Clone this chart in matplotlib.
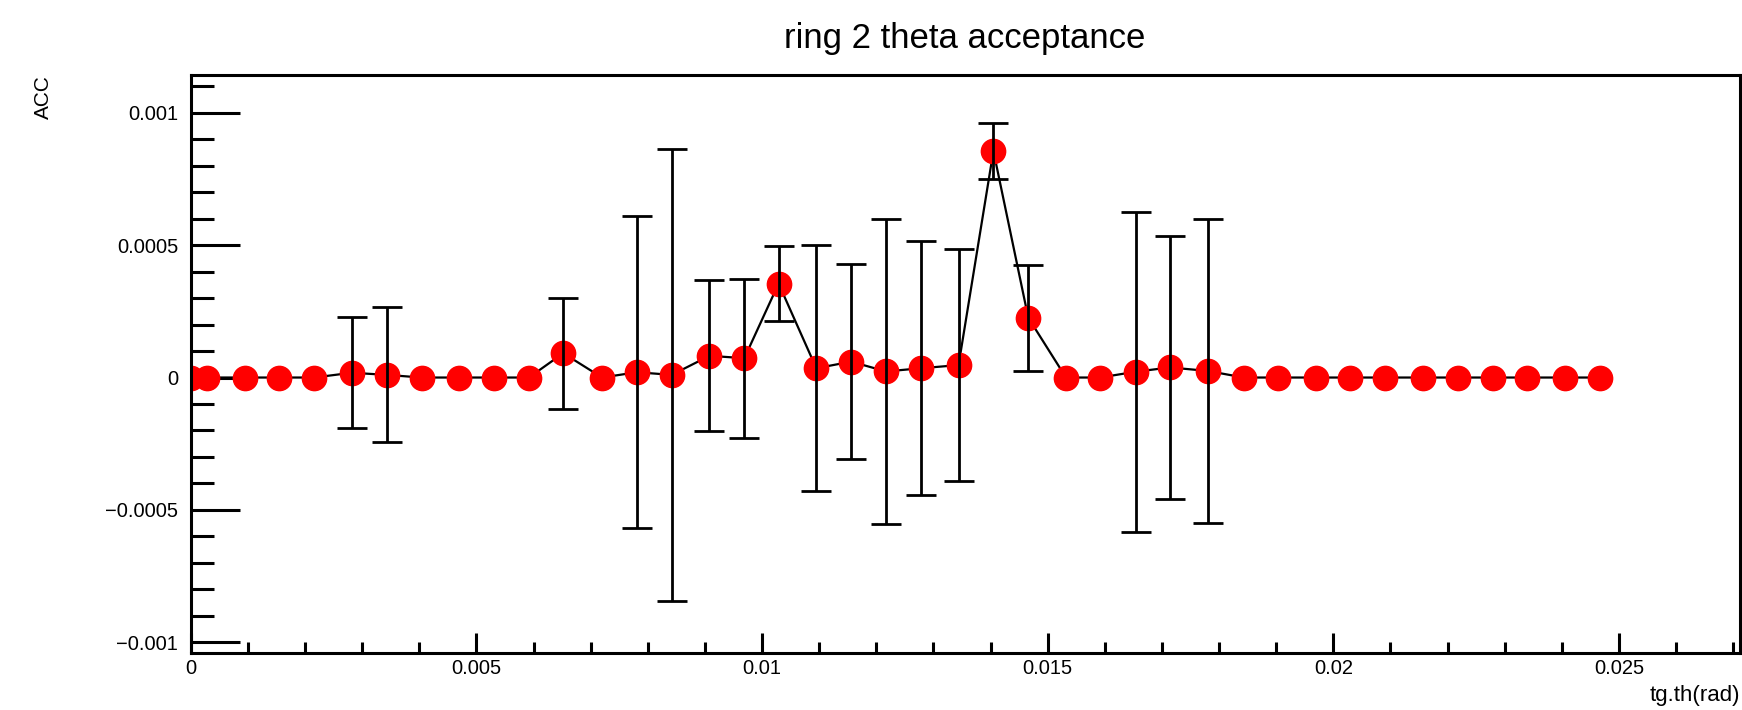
import numpy as np
import matplotlib
matplotlib.use('Agg')
from matplotlib import pyplot as plt
from matplotlib.ticker import MultipleLocator, FuncFormatter

plt.rcParams['font.family'] = ['Liberation Sans', 'DejaVu Sans']

# tg.th (rad) of each point
theta = [0.0, 0.00028, 0.00095, 0.00155, 0.00216, 0.00282, 0.00343, 0.00404,
         0.00470, 0.00531, 0.00592, 0.00652, 0.00720, 0.00781, 0.00842, 0.00908,
         0.00969, 0.01029, 0.01095, 0.01156, 0.01217, 0.01278, 0.01344, 0.01405,
         0.01466, 0.01532, 0.01592, 0.01654, 0.01714, 0.01780, 0.01843, 0.01903,
         0.01969, 0.02030, 0.02091, 0.02157, 0.02218, 0.02279, 0.02339, 0.02406,
         0.02466]

# acceptance values
acc = [0.0, 0.0, 0.0, 0.0, 0.0, 0.000018, 0.00001, 0.0,
       0.0, 0.0, 0.0, 0.000092, 0.0, 0.00002, 0.00001, 0.000082,
       0.000073, 0.000355, 0.000035, 0.00006, 0.000023, 0.000035, 0.000047, 0.000856,
       0.000226, 0.0, 0.0, 0.000022, 0.000038, 0.000025, 0.0, 0.0,
       0.0, 0.0, 0.0, 0.0, 0.0, 0.0, 0.0, 0.0,
       0.0]

# errors on acceptance
acc_err = [0.0, 0.0, 0.0, 0.0, 0.0, 0.00021, 0.000255, 0.0,
           0.0, 0.0, 0.0, 0.00021, 0.0, 0.00059, 0.000855, 0.000285,
           0.0003, 0.000142, 0.000464, 0.000368, 0.000576, 0.00048, 0.000439, 0.000106,
           0.0002, 0.0, 0.0, 0.000605, 0.000498, 0.000575, 0.0, 0.0,
           0.0, 0.0, 0.0, 0.0, 0.0, 0.0, 0.0, 0.0,
           0.0]

x = np.array(theta)
y = np.array(acc)
e = np.array(acc_err)
has_err = e > 0

fig = plt.figure(figsize=(17.42, 7.10), dpi=100)
ax = fig.add_axes([0.1095, 0.0798, 0.8894, 0.8146])

# line, then markers, then error bars on top (ROOT-like)
ax.plot(x, y, color='black', lw=1.6, zorder=1)
ax.plot(x, y, 'o', color='red', ms=17.5, mec='red', zorder=2)
ax.errorbar(x[has_err], y[has_err], yerr=e[has_err], fmt='none', ecolor='black',
            elinewidth=2.0, capsize=10.5, capthick=2.0, zorder=3)

ax.set_xlim(0, 0.02712)
ax.set_ylim(-0.001042, 0.001143)

for s in ax.spines.values():
    s.set_linewidth(2.2)

ax.xaxis.set_major_locator(MultipleLocator(0.005))
ax.xaxis.set_minor_locator(MultipleLocator(0.001))
ax.yaxis.set_major_locator(MultipleLocator(0.0005))
ax.yaxis.set_minor_locator(MultipleLocator(0.0001))

fmt = FuncFormatter(lambda v, p: ('%g' % round(v, 6)).replace('-', '\u2212'))
ax.xaxis.set_major_formatter(fmt)
ax.yaxis.set_major_formatter(fmt)

ax.tick_params(axis='y', which='major', direction='in', length=35, width=2.2,
               labelsize=14.5, pad=9, right=False)
ax.tick_params(axis='y', which='minor', direction='in', length=16.5, width=2.2,
               right=False)
ax.tick_params(axis='x', which='major', direction='in', length=14.4, width=2.2,
               labelsize=14.5, pad=4, top=False)
ax.tick_params(axis='x', which='minor', direction='in', length=7.7, width=2.2,
               top=False)

fig.text(0.5537, 0.946, 'ring 2 theta acceptance', ha='center', va='center',
         fontsize=25)
fig.text(43 / 1742, 1 - 75 / 710, 'ACC', rotation=90, ha='center', va='top',
         fontsize=15)
fig.text(1740 / 1742, 1 - 695 / 710, 'tg.th(rad)', ha='right', va='center',
         fontsize=16)

plt.savefig('out.png', dpi=100)
